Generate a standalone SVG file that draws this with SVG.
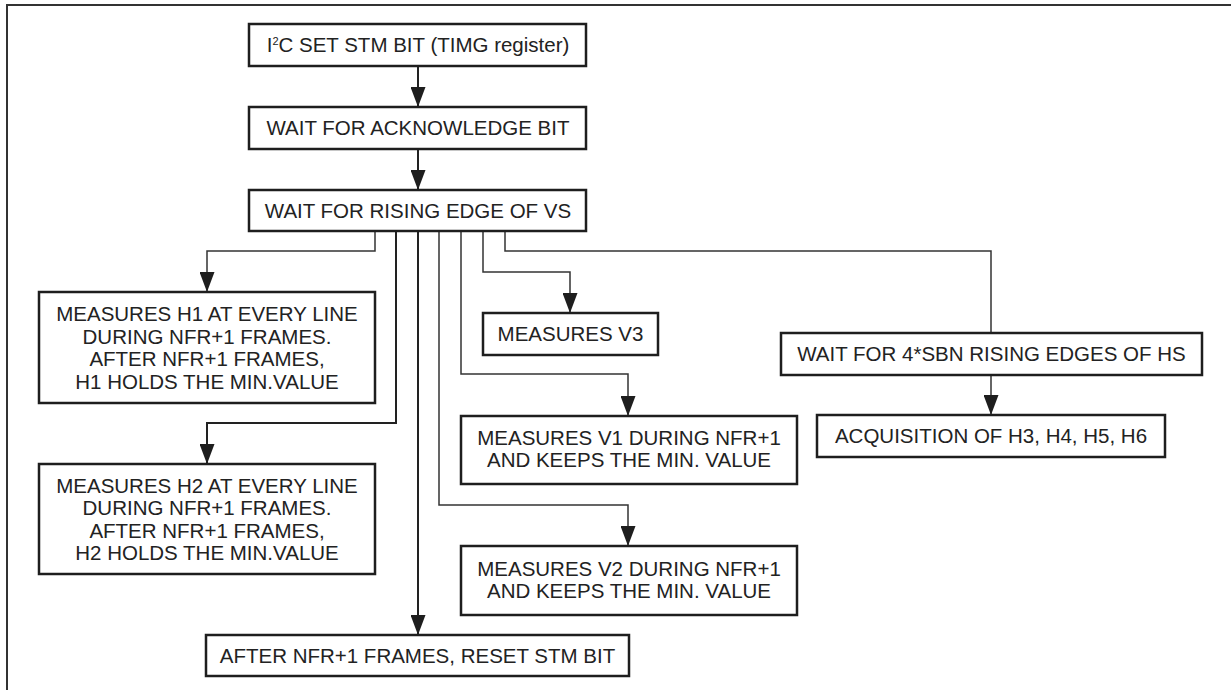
<svg xmlns="http://www.w3.org/2000/svg" width="1231" height="690" viewBox="0 0 1231 690">
<style>
.box{fill:#fff;stroke:#1e1e1e;stroke-width:2.5}
.t{font-family:"Liberation Sans",Arial,sans-serif;font-size:20.5px;fill:#222;text-anchor:middle}
.c{fill:none;stroke:#333;stroke-width:1.5}
.cm{fill:none;stroke:#222;stroke-width:2}
.fr{fill:none;stroke:#333;stroke-width:2}
</style>
<defs>
<marker id="ah" viewBox="0 0 20 15" refX="20" refY="7.5" markerWidth="20" markerHeight="15" markerUnits="userSpaceOnUse" orient="auto">
<path d="M0,0 L20,7.5 L0,15 z" fill="#1e1e1e"/>
</marker>
</defs>
<rect width="1231" height="690" fill="#fff"/>
<path class="fr" d="M7,690 V5 H1231"/>
<g id="connectors">
<path class="cm" d="M418,66 V107" marker-end="url(#ah)"/>
<path class="cm" d="M418,149 V190" marker-end="url(#ah)"/>
<path class="c" d="M375,231 V251 H207 V292" marker-end="url(#ah)"/>
<path class="cm" d="M396,231 V423 H207 V464" marker-end="url(#ah)"/>
<path class="cm" d="M418,231 V635" marker-end="url(#ah)"/>
<path class="c" d="M439,231 V505 H628 V546" marker-end="url(#ah)"/>
<path class="c" d="M461,231 V374 H628 V416" marker-end="url(#ah)"/>
<path class="c" d="M483,231 V272 H570 V313" marker-end="url(#ah)"/>
<path class="c" d="M505,231 V251 H991 V333"/>
<path class="c" d="M991,375 V415" marker-end="url(#ah)"/>
</g>
<g id="n1"><rect class="box" x="249" y="24" width="337" height="42"/><text class="t" x="418" y="52">I<tspan font-size="11" dy="-7">2</tspan><tspan dy="7">C SET STM BIT (TIMG register)</tspan></text></g>
<g id="n2"><rect class="box" x="249" y="107" width="337" height="42"/><text class="t" x="418" y="135">WAIT FOR ACKNOWLEDGE BIT</text></g>
<g id="n3"><rect class="box" x="249" y="190" width="337" height="41"/><text class="t" x="418" y="218">WAIT FOR RISING EDGE OF VS</text></g>
<g id="n4"><rect class="box" x="39" y="292" width="336" height="111"/>
<text class="t" x="207" y="321">MEASURES H1 AT EVERY LINE</text>
<text class="t" x="207" y="343.5">DURING NFR+1 FRAMES.</text>
<text class="t" x="207" y="366">AFTER NFR+1 FRAMES,</text>
<text class="t" x="207" y="388.5">H1 HOLDS THE MIN.VALUE</text></g>
<g id="n5"><rect class="box" x="39" y="464" width="336" height="110"/>
<text class="t" x="207" y="492.5">MEASURES H2 AT EVERY LINE</text>
<text class="t" x="207" y="515">DURING NFR+1 FRAMES.</text>
<text class="t" x="207" y="537.5">AFTER NFR+1 FRAMES,</text>
<text class="t" x="207" y="560">H2 HOLDS THE MIN.VALUE</text></g>
<g id="n6"><rect class="box" x="483" y="313" width="175" height="42"/><text class="t" x="570.5" y="341">MEASURES V3</text></g>
<g id="n7"><rect class="box" x="461" y="416" width="336" height="68"/>
<text class="t" x="629" y="445">MEASURES V1 DURING NFR+1</text>
<text class="t" x="629" y="467">AND KEEPS THE MIN. VALUE</text></g>
<g id="n8"><rect class="box" x="461" y="546" width="336" height="69"/>
<text class="t" x="629" y="576">MEASURES V2 DURING NFR+1</text>
<text class="t" x="629" y="598">AND KEEPS THE MIN. VALUE</text></g>
<g id="n9"><rect class="box" x="781" y="333" width="421" height="42"/><text class="t" x="991.5" y="361">WAIT FOR 4*SBN RISING EDGES OF HS</text></g>
<g id="n10"><rect class="box" x="817" y="415" width="348" height="42"/><text class="t" x="991" y="443">ACQUISITION OF H3, H4, H5, H6</text></g>
<g id="n11"><rect class="box" x="206" y="635" width="423" height="41"/><text class="t" x="417.5" y="663">AFTER NFR+1 FRAMES, RESET STM BIT</text></g>
</svg>
